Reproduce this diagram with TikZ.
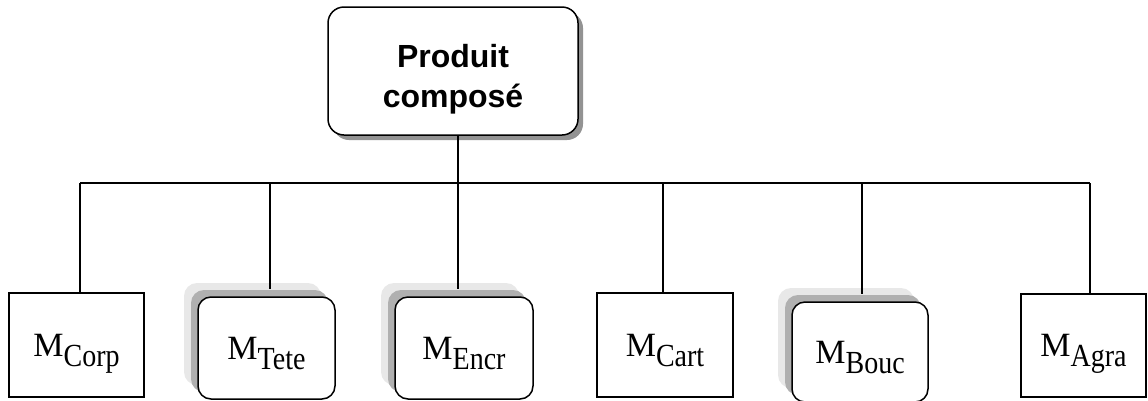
\documentclass[tikz,border=0pt]{standalone}
\usepackage{fontspec}
\usepackage{graphicx}
\setmainfont{Liberation Serif}
\newfontfamily\headfont{Liberation Sans}
\usetikzlibrary{shadows}
\newcommand\mname[1]{M\raisebox{-10pt}[0pt][0pt]{\scalebox{1}[1.15]{\fontsize{28}{30}\selectfont #1}}}

\begin{document}
\begin{tikzpicture}[x=1pt,y=-1pt,
rootbox/.style={draw,line width=1.5pt,rounded corners=16pt,fill=white,
  minimum width=250pt,minimum height=128pt,inner sep=0pt,align=center,
  font=\headfont\bfseries\fontsize{32}{40}\selectfont,
  drop shadow={shadow xshift=5pt,shadow yshift=-5pt,fill=gray!85,opacity=1}},
modbox/.style={draw,line width=1.5pt,fill=white,inner sep=0pt,
  font=\fontsize{34}{40}\selectfont},
modshadow/.style={modbox,rounded corners=13pt,
  general shadow={fill=gray!18,shadow xshift=-14pt,shadow yshift=14pt},
  general shadow={fill=gray!62,shadow xshift=-7pt,shadow yshift=7pt}},
link/.style={line width=1.5pt}]
\useasboundingbox (0,0) rectangle (1148,400);

% root
\node[rootbox] (prod) at (453,71) {\rule{0pt}{39pt}Produit\\composé};

% modules
\node[modbox,minimum width=135pt,minimum height=104pt] (corp) at (76.5,345) {\mname{Corp}};
\node[modshadow,minimum width=137pt,minimum height=102pt] (tete) at (266.5,348) {\mname{Tete}};
\node[modshadow,minimum width=138pt,minimum height=102pt] (encr) at (464,348) {\mname{Encr}};
\node[modbox,minimum width=136pt,minimum height=104pt] (cart) at (665,345) {\mname{Cart}};
\node[modshadow,minimum width=136pt,minimum height=100pt] (bouc) at (860,352) {\mname{Bouc}};
\node[modbox,minimum width=125pt,minimum height=103pt] (agra) at (1083.5,345.5) {\mname{Agra}};

% bus
\coordinate (b1) at (80,183);
\coordinate (b2) at (270,183);
\coordinate (b3) at (458,183);
\coordinate (b4) at (663,183);
\coordinate (b5) at (862,183);
\coordinate (b6) at (1090,183);
\draw[link] (b1) -- (b6);
\draw[link] (b3 |- prod.south) -- (b3);
\draw[link] (b1) -- (b1 |- corp.north);
\draw[link,shorten >=7pt] (b2) -- (b2 |- tete.north);
\draw[link,shorten >=7pt] (b3) -- (b3 |- encr.north);
\draw[link] (b4) -- (b4 |- cart.north);
\draw[link,shorten >=7pt] (b5) -- (b5 |- bouc.north);
\draw[link] (b6) -- (b6 |- agra.north);
\end{tikzpicture}
\end{document}
